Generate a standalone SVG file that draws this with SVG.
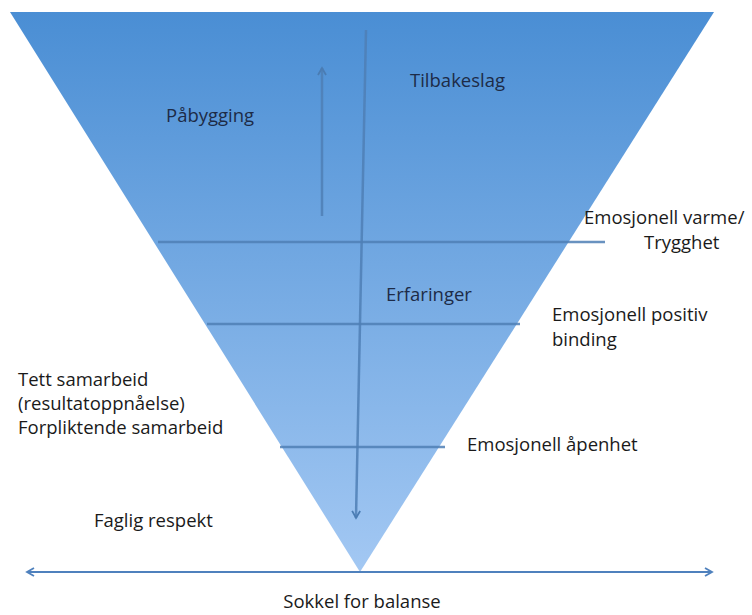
<svg xmlns="http://www.w3.org/2000/svg" width="752" height="615" viewBox="0 0 752 615">
<defs>
<linearGradient id="g" x1="0" y1="12" x2="0" y2="572" gradientUnits="userSpaceOnUse">
<stop offset="0" stop-color="#4a8ed4"/>
<stop offset="1" stop-color="#a3c8f3"/>
</linearGradient>
<marker id="ah" markerWidth="10" markerHeight="10" refX="8" refY="5" orient="auto" markerUnits="userSpaceOnUse">
<path d="M1,1 L8,5 L1,9" fill="none" stroke="#4a7cb3" stroke-width="1.8"/>
</marker>
<marker id="ahs" markerWidth="10" markerHeight="10" refX="8" refY="5" orient="auto-start-reverse" markerUnits="userSpaceOnUse">
<path d="M1,1 L8,5 L1,9" fill="none" stroke="#4f81bd" stroke-width="1.8"/>
</marker>
</defs>
<style>
text{font-family:"Open Sans","Liberation Sans",sans-serif;font-size:18.5px;fill:#1a1a1a}
text.in{fill:#1d2b47}
.ln{stroke:#4f7fb5;stroke-width:2.5;stroke-opacity:0.85;fill:none}
</style>
<rect width="752" height="615" fill="#ffffff"/>
<g id="triangle">
<polygon points="10,12 714,12 360,572" fill="url(#g)"/>
</g>
<g id="connectors">
<line class="ln" x1="158" y1="242" x2="605" y2="242"/>
<line class="ln" x1="207" y1="324" x2="520" y2="324"/>
<line class="ln" x1="280" y1="447" x2="445" y2="447"/>
<line class="ln" x1="366" y1="30" x2="356" y2="518" marker-end="url(#ah)" stroke-width="2"/>
<line class="ln" x1="322" y1="216" x2="322" y2="68" marker-end="url(#ah)" stroke-width="2" stroke-opacity="0.6"/>
<line x1="27" y1="572" x2="712" y2="572" stroke="#4f81bd" stroke-width="2" marker-start="url(#ahs)" marker-end="url(#ahs)"/>
</g>
<g id="labels">
<text class="in" x="166" y="122">Påbygging</text>
<text class="in" x="410" y="87">Tilbakeslag</text>
<text x="584" y="224">Emosjonell varme/</text>
<text x="644" y="249">Trygghet</text>
<text class="in" x="386" y="301">Erfaringer</text>
<text x="552" y="321">Emosjonell positiv</text>
<text x="552" y="346">binding</text>
<text x="18" y="386">Tett samarbeid</text>
<text x="18" y="410">(resultatoppnåelse)</text>
<text x="18" y="434">Forpliktende samarbeid</text>
<text x="467" y="451">Emosjonell åpenhet</text>
<text x="94" y="527">Faglig respekt</text>
<text x="362" y="608" text-anchor="middle">Sokkel for balanse</text>
</g>
</svg>
